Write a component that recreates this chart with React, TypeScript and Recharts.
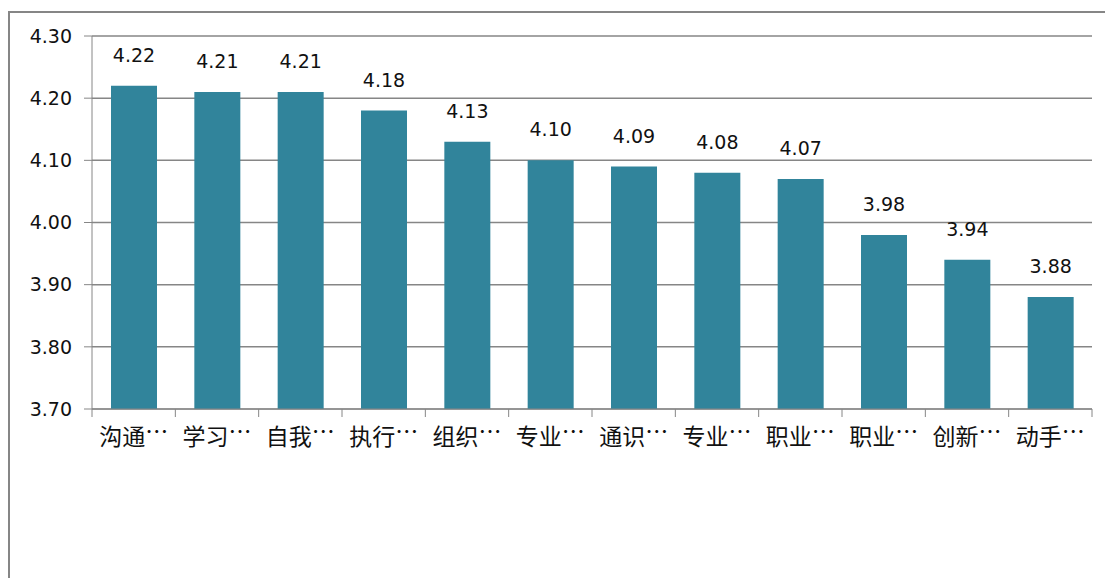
import { BarChart, Bar, XAxis, YAxis, CartesianGrid, LabelList } from 'recharts'

// ==================== || 能力评价 - 柱状图 || ==================== //

const categories = [
    '沟通…',
    '学习…',
    '自我…',
    '执行…',
    '组织…',
    '专业…',
    '通识…',
    '专业…',
    '职业…',
    '职业…',
    '创新…',
    '动手…',
]

const scores = [4.22, 4.21, 4.21, 4.18, 4.13, 4.1, 4.09, 4.08, 4.07, 3.98, 3.94, 3.88]

const yTicks = [3.7, 3.8, 3.9, 4.0, 4.1, 4.2, 4.3]

const data = categories.map((name, i) => ({ key: `c${i}`, name, score: scores[i] }))

const AXIS_GRAY = '#868686'
const BAR_COLOR = '#31849B'
const NUM_FONT = '"DejaVu Sans", Verdana, sans-serif'
const CJK_FONT = '"Noto Sans CJK SC", sans-serif'

const CHART_W = 1105
const CHART_H = 578
const MARGIN = { top: 36, right: 13, left: 0, bottom: 139 }
const Y_WIDTH = 92

const bandWidth = (CHART_W - MARGIN.right - Y_WIDTH) / categories.length

// ticks sit on the category boundaries, like the original spreadsheet chart
const CategoryTick = (props: any) => {
    const { x, y, index } = props
    const left = x - bandWidth / 2
    const right = x + bandWidth / 2
    const label: string = categories[index] ?? ''
    const body = label.replace('…', '')
    const hasDots = label.endsWith('…')
    return (
        <g>
            <line x1={left} y1={y} x2={left} y2={y + 8} stroke={AXIS_GRAY} />
            {index === categories.length - 1 && (
                <line x1={right} y1={y} x2={right} y2={y + 8} stroke={AXIS_GRAY} />
            )}
            <text
                x={x}
                y={y + 18}
                dy="0.8em"
                textAnchor="middle"
                fill="#111"
                fontSize={23}
                fontFamily={CJK_FONT}
            >
                {body}
                {hasDots && (
                    <tspan dy="-0.24em">…</tspan>
                )}
            </text>
        </g>
    )
}

const App = () => {
    return (
        <div style={{ position: 'absolute', left: 0, top: 0, width: CHART_W, height: CHART_H, overflow: 'hidden', background: '#fff' }}>
            <div
                style={{
                    position: 'absolute',
                    left: 8,
                    top: 11,
                    width: 1200,
                    height: 700,
                    borderLeft: `2px solid ${AXIS_GRAY}`,
                    borderTop: `2px solid ${AXIS_GRAY}`,
                }}
            />
            <div style={{ position: 'absolute', left: 0, top: 0 }}>
                <BarChart width={CHART_W} height={CHART_H} data={data} margin={MARGIN} barSize={46}>
                    <CartesianGrid vertical={false} stroke={AXIS_GRAY} strokeWidth={1.5} />
                    <XAxis
                        dataKey="key"
                        height={30}
                        stroke={AXIS_GRAY}
                        tickLine={false}
                        tickSize={0}
                        tickMargin={0}
                        interval={0}
                        tick={<CategoryTick />}
                    />
                    <YAxis
                        width={Y_WIDTH}
                        domain={[3.7, 4.3]}
                        ticks={yTicks}
                        allowDataOverflow
                        stroke={AXIS_GRAY}
                        tickSize={8}
                        tickMargin={12}
                        tickFormatter={(v: number) => v.toFixed(2)}
                        tick={{ fill: '#111', fontSize: 19, fontFamily: NUM_FONT }}
                    />
                    <Bar dataKey="score" fill={BAR_COLOR} isAnimationActive={false}>
                        <LabelList
                            dataKey="score"
                            position="top"
                            offset={24}
                            formatter={(v: any) => Number(v).toFixed(2)}
                            fill="#111"
                            fontSize={19}
                            fontFamily={NUM_FONT}
                        />
                    </Bar>
                </BarChart>
            </div>
        </div>
    )
}

export default App
